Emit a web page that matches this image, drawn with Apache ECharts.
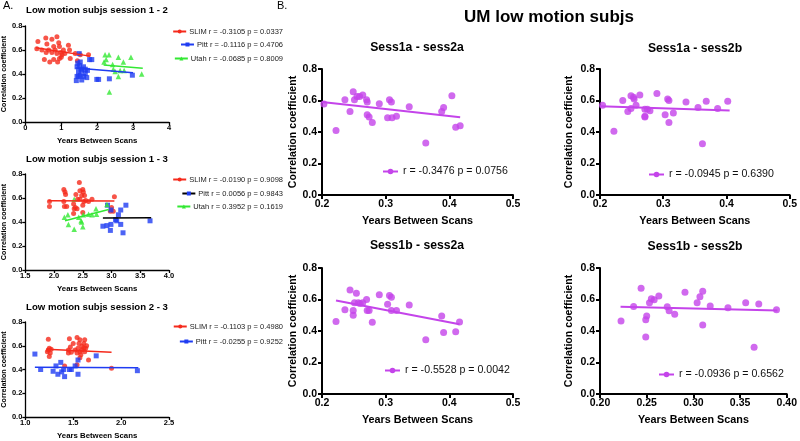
<!DOCTYPE html>
<html><head><meta charset="utf-8">
<script src="https://cdn.jsdelivr.net/npm/echarts@6/dist/echarts.min.js"></script>
<style>html,body{margin:0;padding:0;background:#fff}#c{width:800px;height:441px}</style>
</head><body><div id="c"></div>
<script>
// ---------- DATA ----------
const a1Slim = [[0.35,0.67],[0.32,0.61],[0.57,0.70],[0.74,0.69],[0.88,0.71],[0.60,0.65],[0.65,0.60],[0.53,0.52],[0.68,0.50],[0.79,0.52],[0.93,0.66],[0.95,0.63],[0.99,0.58],[0.88,0.57],[0.83,0.60],[1.06,0.60],[1.20,0.64],[1.23,0.60],[1.25,0.53],[0.95,0.53],[1.00,0.54],[0.74,0.58],[0.46,0.60],[0.58,0.58],[1.10,0.57],[1.39,0.57],[1.53,0.56],[1.76,0.56],[1.45,0.51],[0.79,0.63],[1.02,0.56],[0.90,0.50]];
const a1Pitt = [[1.42,0.345],[1.50,0.57],[1.44,0.46],[1.48,0.42],[1.53,0.39],[1.57,0.43],[1.53,0.50],[1.62,0.46],[1.67,0.405],[1.71,0.37],[1.79,0.52],[1.85,0.52],[1.73,0.43],[1.44,0.38],[1.57,0.35],[1.99,0.355],[2.04,0.355],[2.34,0.36],[2.98,0.39],[1.51,0.47],[1.62,0.38],[1.48,0.38],[1.55,0.44],[1.67,0.44],[1.46,0.49]];
const a1Utah = [[2.22,0.56],[2.33,0.56],[2.19,0.50],[2.25,0.52],[2.43,0.48],[2.59,0.54],[2.73,0.50],[2.94,0.54],[2.50,0.42],[2.59,0.38],[2.75,0.43],[3.24,0.40],[2.34,0.25],[2.45,0.44],[2.64,0.43]];
const a1SlimFit = [[0.30,0.618],[1.80,0.549]];
const a1PittFit = [[1.40,0.45],[3.00,0.41]];
const a1UtahFit = [[2.18,0.474],[3.27,0.447]];
const a1Labels = ['SLIM r = -0.3105 p = 0.0337','Pitt r = -0.1116 p = 0.4706','Utah r = -0.0685 p = 0.8009'];

const a2Slim = [[1.92,0.57],[1.92,0.53],[2.17,0.67],[2.19,0.65],[2.20,0.63],[2.17,0.57],[2.18,0.53],[2.22,0.53],[2.44,0.73],[2.38,0.63],[2.45,0.66],[2.50,0.67],[2.51,0.65],[2.48,0.62],[2.41,0.59],[2.45,0.59],[2.53,0.62],[2.34,0.55],[2.37,0.52],[2.40,0.51],[2.34,0.47],[2.50,0.48],[2.52,0.57],[2.55,0.58],[2.66,0.59],[2.50,0.54],[2.60,0.57],[3.05,0.61],[2.98,0.49],[3.03,0.49],[3.00,0.52],[2.35,0.51]];
const a2Pitt = [[2.85,0.365],[2.92,0.37],[2.93,0.54],[2.99,0.50],[2.99,0.38],[2.98,0.33],[3.07,0.42],[3.09,0.41],[3.12,0.46],[3.16,0.50],[3.16,0.38],[3.20,0.31],[3.25,0.54],[3.67,0.41]];
const a2Utah = [[2.18,0.44],[2.24,0.46],[2.35,0.59],[2.25,0.38],[2.35,0.34],[2.48,0.40],[2.50,0.36],[2.43,0.44],[2.51,0.46],[2.60,0.465],[2.66,0.46],[2.74,0.465],[2.73,0.51],[2.92,0.545],[2.47,0.41]];
const a2SlimFit = [[1.90,0.578],[3.05,0.574]];
const a2PittFit = [[2.85,0.434],[3.69,0.436]];
const a2UtahFit = [[2.19,0.41],[2.95,0.504]];
const a2Labels = ['SLIM r = -0.0190 p = 0.9098','Pitt r = 0.0056 p = 0.9843','Utah r = 0.3952 p = 0.1619'];

const a3Slim = [[1.24,0.655],[1.23,0.55],[1.24,0.565],[1.25,0.58],[1.26,0.54],[1.25,0.51],[1.27,0.57],[1.41,0.43],[1.46,0.66],[1.50,0.62],[1.47,0.59],[1.45,0.565],[1.48,0.545],[1.45,0.54],[1.54,0.67],[1.57,0.65],[1.56,0.62],[1.59,0.595],[1.61,0.62],[1.62,0.65],[1.57,0.55],[1.58,0.525],[1.57,0.50],[1.59,0.565],[1.62,0.55],[1.63,0.58],[1.64,0.60],[1.61,0.58],[1.66,0.48],[1.54,0.44],[1.90,0.41],[1.54,0.54],[1.52,0.565],[1.55,0.58]];
const a3Pitt = [[1.10,0.53],[1.16,0.40],[1.29,0.385],[1.32,0.43],[1.34,0.36],[1.37,0.46],[1.38,0.38],[1.40,0.40],[1.41,0.34],[1.46,0.40],[1.48,0.40],[1.52,0.43],[1.55,0.36],[1.55,0.48],[1.74,0.515],[2.17,0.39]];
const a3SlimFit = [[1.22,0.57],[1.90,0.545]];
const a3PittFit = [[1.10,0.42],[2.18,0.415]];
const a3Labels = ['SLIM r = -0.1103 p = 0.4980','Pitt r = -0.0255 p = 0.9252'];

const b1Pts = [[0.203,0.577],[0.222,0.41],[0.236,0.605],[0.244,0.53],[0.249,0.655],[0.251,0.605],[0.255,0.625],[0.259,0.625],[0.264,0.635],[0.270,0.605],[0.271,0.59],[0.271,0.51],[0.274,0.495],[0.279,0.46],[0.290,0.58],[0.303,0.49],[0.306,0.605],[0.309,0.59],[0.310,0.49],[0.317,0.50],[0.337,0.56],[0.363,0.33],[0.388,0.53],[0.391,0.555],[0.404,0.63],[0.410,0.43],[0.417,0.44]];
const b1Fit = [[0.200,0.59],[0.417,0.494]];
const b2Pts = [[0.204,0.57],[0.222,0.405],[0.236,0.60],[0.244,0.53],[0.249,0.63],[0.253,0.62],[0.254,0.61],[0.249,0.55],[0.257,0.57],[0.263,0.635],[0.271,0.545],[0.271,0.495],[0.271,0.50],[0.275,0.545],[0.279,0.535],[0.290,0.645],[0.303,0.51],[0.307,0.61],[0.309,0.60],[0.309,0.46],[0.316,0.52],[0.336,0.59],[0.355,0.555],[0.362,0.325],[0.368,0.595],[0.386,0.55],[0.402,0.595]];
const b2Fit = [[0.200,0.563],[0.405,0.537]];
const b3Pts = [[0.222,0.46],[0.236,0.535],[0.244,0.66],[0.249,0.53],[0.249,0.50],[0.251,0.58],[0.254,0.64],[0.257,0.58],[0.260,0.575],[0.264,0.58],[0.270,0.60],[0.271,0.53],[0.274,0.53],[0.279,0.455],[0.290,0.63],[0.303,0.57],[0.306,0.625],[0.309,0.615],[0.309,0.53],[0.317,0.53],[0.337,0.565],[0.363,0.345],[0.388,0.495],[0.391,0.39],[0.410,0.395],[0.416,0.457]];
const b3Fit = [[0.222,0.594],[0.416,0.443]];
const b4Pts = [[0.2225,0.463],[0.236,0.556],[0.244,0.672],[0.250,0.495],[0.249,0.472],[0.249,0.362],[0.253,0.58],[0.255,0.604],[0.258,0.598],[0.263,0.623],[0.272,0.554],[0.274,0.528],[0.280,0.507],[0.291,0.646],[0.304,0.579],[0.307,0.617],[0.310,0.653],[0.310,0.438],[0.318,0.558],[0.337,0.547],[0.356,0.579],[0.365,0.297],[0.370,0.571],[0.389,0.535]];
const b4Fit = [[0.222,0.554],[0.390,0.530]];
const bLabels = ['r = -0.3476 p = 0.0756','r = -0.0945 p = 0.6390','r = -0.5528 p = 0.0042','r = -0.0936 p = 0.6562'];

const aTitles = ['Low motion subjs session 1 - 2','Low motion subjs session 1 - 3','Low motion subjs session 2 - 3'];
const bTitles = ['Sess1a - sess2a','Sess1a - sess2b','Sess1b - sess2a','Sess1b - sess2b'];
const mainTitle = 'UM low motion subjs';
// x axis ranges: [min, max, interval, decimals]
const xRanges = [[0,4,1,0],[1.5,4.0,0.5,1],[1.0,2.5,0.5,1],[0.2,0.5,0.1,1],[0.2,0.5,0.1,1],[0.2,0.5,0.1,1],[0.20,0.40,0.05,2]];
const yRange = [0,0.8,0.2,1];

// ---------- STYLE ----------
const FONT = '"Liberation Sans", Arial, sans-serif';
const RED = '#f52a1c', BLUE = '#1f3cf2', GREEN = '#33e833', PURPLE = '#c444ea';
const grids = [
  {left:25, top:26, width:144, height:96},
  {left:25, top:174, width:144, height:96},
  {left:25, top:322, width:144, height:96},
  {left:322, top:69, width:191, height:126},
  {left:600, top:69, width:193, height:126},
  {left:322, top:268, width:191, height:126},
  {left:600, top:268, width:190, height:126}
];
const yNameGaps = [16,16,16,23,25,23,25];

const xAxes = xRanges.map((r,i)=>{
  const s = i<3;
  return {gridIndex:i, type:'value', min:r[0], max:r[1], interval:r[2],
    axisLine:{onZero:false, lineStyle:{color:'#000', width:s?1.3:2}},
    axisTick:{length:s?3:4, lineStyle:{color:'#000', width:s?1.3:2}},
    splitLine:{show:false},
    axisLabel:{formatter:v=>v.toFixed(r[3]), fontSize:s?7.5:10.5, fontWeight:'bold', color:'#000', margin:s?2:4, fontFamily:FONT},
    name:'Years Between Scans', nameLocation:'middle', nameGap:s?15:21,
    nameTextStyle:{fontSize:s?7.8:10.8, fontWeight:'bold', color:'#000', fontFamily:FONT}
  };
});
const yAxes = grids.map((g,i)=>{
  const s = i<3;
  return {gridIndex:i, type:'value', min:yRange[0], max:yRange[1], interval:yRange[2],
    axisLine:{onZero:false, lineStyle:{color:'#000', width:s?1.3:2}},
    axisTick:{length:s?3:4, lineStyle:{color:'#000', width:s?1.3:2}},
    splitLine:{show:false},
    axisLabel:{formatter:v=>v.toFixed(yRange[3]), fontSize:s?7.5:10.5, fontWeight:'bold', color:'#000', margin:s?3:5, fontFamily:FONT},
    name:'Correlation coefficient', nameLocation:'middle', nameGap:yNameGaps[i],
    nameTextStyle:{fontSize:s?7.2:10.6, fontWeight:'bold', color:'#000', fontFamily:FONT}
  };
});

const series = [];
function pts(i, data, symbol, color, size){
  series.push({type:'scatter', xAxisIndex:i, yAxisIndex:i, data, symbol, symbolSize:size, itemStyle:{color}, silent:true, z:2});
}
function fit(i, data, name, symbol, color, lineColor, w){
  series.push({type:'line', name, xAxisIndex:i, yAxisIndex:i, data, symbol, showSymbol:false,
    symbolSize:6, itemStyle:{color}, lineStyle:{color:lineColor||color, width:w}, silent:true, z:3});
}
pts(0,a1Slim,'circle',RED,5); pts(0,a1Pitt,'rect',BLUE,5); pts(0,a1Utah,'triangle',GREEN,5.5);
fit(0,a1SlimFit,a1Labels[0],'circle',RED,null,1.5); fit(0,a1PittFit,a1Labels[1],'rect',BLUE,null,1.5); fit(0,a1UtahFit,a1Labels[2],'triangle',GREEN,null,1.5);
pts(1,a2Slim,'circle',RED,5); pts(1,a2Pitt,'rect',BLUE,5); pts(1,a2Utah,'triangle',GREEN,5.5);
fit(1,a2SlimFit,a2Labels[0],'circle',RED,null,1.5); fit(1,a2PittFit,a2Labels[1],'rect',BLUE,'#000',1.5); fit(1,a2UtahFit,a2Labels[2],'triangle',GREEN,null,1.5);
pts(2,a3Slim,'circle',RED,5); pts(2,a3Pitt,'rect',BLUE,5);
fit(2,a3SlimFit,a3Labels[0],'circle',RED,null,1.5); fit(2,a3PittFit,a3Labels[1],'rect',BLUE,null,1.5);
[b1Pts,b2Pts,b3Pts,b4Pts].forEach((d,k)=>pts(3+k,d,'circle',PURPLE,7));
[b1Fit,b2Fit,b3Fit,b4Fit].forEach((d,k)=>fit(3+k,d,bLabels[k],'circle',PURPLE,null,2));

const legends = [];
function lgA(name, top){
  legends.push({data:[name], right:517, top, orient:'vertical', padding:0, itemWidth:13, itemHeight:5, selectedMode:false,
    textStyle:{fontSize:7.5, color:'#222', fontFamily:FONT, padding:[0,0,0,-2]}});
}
lgA(a1Labels[0],27.5); lgA(a1Labels[1],40.5); lgA(a1Labels[2],54.5);
lgA(a2Labels[0],175.5); lgA(a2Labels[1],189.5); lgA(a2Labels[2],202.5);
lgA(a3Labels[0],322.5); lgA(a3Labels[1],337.5);
const bLegPos = [[382,166],[648,169],[384,365],[658,369]];
bLabels.forEach((n,k)=>legends.push({data:[n], left:bLegPos[k][0], top:bLegPos[k][1], padding:0, itemWidth:15, itemHeight:7, selectedMode:false,
  textStyle:{fontSize:10.6, color:'#111', fontFamily:FONT}}));

const tStyle = (fs,fw)=>({fontSize:fs, fontWeight:fw, color:'#000', fontFamily:FONT});
const titles = [
  {text:'A.', left:3, top:0, padding:0, textStyle:tStyle(11,'normal')},
  {text:'B.', left:277, top:0, padding:0, textStyle:tStyle(11,'normal')},
  {text:mainTitle, left:549, top:9, padding:0, textAlign:'center', textStyle:tStyle(17,'bold')}
];
const aTitleY = [5,154,302];
aTitles.forEach((t,k)=>titles.push({text:t, left:97, top:aTitleY[k], padding:0, textAlign:'center', textStyle:tStyle(9.6,'bold')}));
const bTitlePos = [[417,42],[695,43],[417,240],[695,241]];
bTitles.forEach((t,k)=>titles.push({text:t, left:bTitlePos[k][0], top:bTitlePos[k][1], padding:0, textAlign:'center', textStyle:tStyle(12.2,'bold')}));

const chart = echarts.init(document.getElementById('c'), null, {renderer:'canvas'});
chart.setOption({
  animation:false, backgroundColor:'#fff',
  title:titles, legend:legends, grid:grids, xAxis:xAxes, yAxis:yAxes, series
});
</script></body></html>
